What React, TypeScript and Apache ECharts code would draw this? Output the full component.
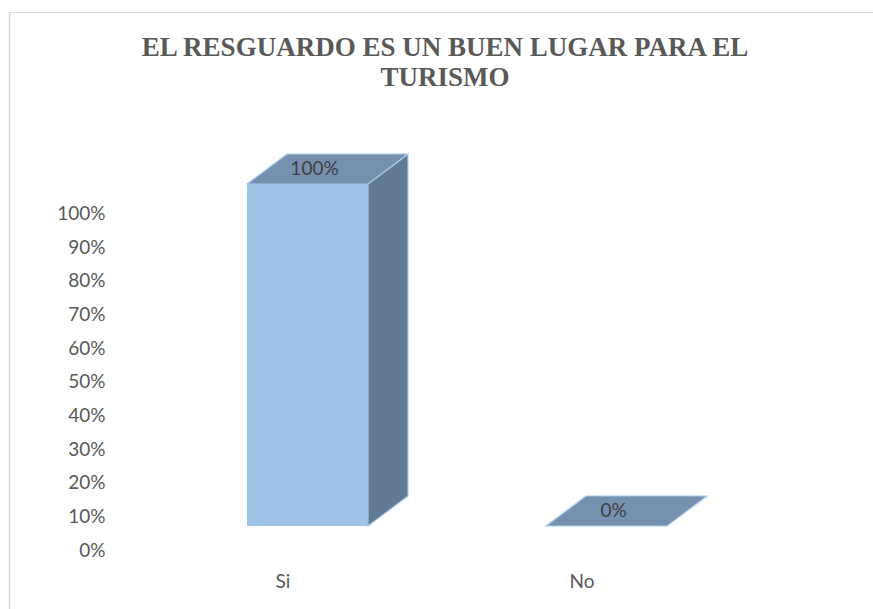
import React, { useEffect, useRef } from "react";
import * as echarts from "echarts";

const titleLines = ["EL RESGUARDO ES UN BUEN LUGAR PARA EL", "TURISMO"];
const categories = ["Si", "No"];
const values = [1, 0];
const yTickLabels = ["0%", "10%", "20%", "30%", "40%", "50%", "60%", "70%", "80%", "90%", "100%"];

const W = 873;
const H = 609;
const BAR_W = 121;
const DX = 40;
const DY = -30;
const FRONT = "#9DC3E6";
const TOP = "#7591AF";
const SIDE = "#627A94";
const EDGE = "#A9CCEB";
const TEXT = "#595959";
const LABEL_FONT = "Lato";
const TITLE_FONT = "Liberation Serif";

export default function App() {
  const ref = useRef<HTMLDivElement>(null);

  useEffect(() => {
    if (!ref.current) return;
    const chart = echarts.init(ref.current, undefined, { renderer: "svg" });

    const pct = (v: number) => Math.round(v * 100) + "%";

    const option: any = {
      animation: false,
      backgroundColor: "#ffffff",
      graphic: [
        {
          type: "line",
          shape: { x1: 9.5, y1: 12.5, x2: W + 5, y2: 12.5 },
          style: { stroke: "#D9D9D9", lineWidth: 1 },
          silent: true,
        },
        {
          type: "line",
          shape: { x1: 9.5, y1: 12.5, x2: 9.5, y2: H + 5 },
          style: { stroke: "#D9D9D9", lineWidth: 1.5 },
          silent: true,
        },
        ...titleLines.map((t, i) => ({
          type: "text",
          x: 445,
          y: 33 + i * 30,
          silent: true,
          style: {
            text: t,
            fontFamily: TITLE_FONT,
            fontWeight: "bold",
            fontSize: 27,
            fill: TEXT,
            align: "center",
            verticalAlign: "top",
          },
        })),
      ],
      grid: [
        { left: 133.5, right: W - 731.5, top: 212.7, bottom: H - 549, containLabel: false },
        { left: 158, right: W - 756, top: 184, bottom: H - 526, containLabel: false },
      ],
      xAxis: [
        {
          type: "category",
          gridIndex: 0,
          data: categories,
          axisLine: { show: false },
          axisTick: { show: false },
          axisLabel: { margin: 22, fontFamily: LABEL_FONT, fontSize: 19, color: TEXT },
        },
        { type: "category", gridIndex: 1, data: categories, show: false },
      ],
      yAxis: [
        {
          type: "value",
          gridIndex: 0,
          min: 0,
          max: 1,
          interval: 0.1,
          axisLine: { show: false },
          axisTick: { show: false },
          splitLine: { show: false },
          axisLabel: {
            margin: 28,
            fontFamily: LABEL_FONT,
            fontSize: 19,
            color: TEXT,
            formatter: (v: number) => yTickLabels[Math.round(v * 10)],
          },
        },
        { type: "value", gridIndex: 1, min: 0, max: 1, show: false },
      ],
      series: [
        {
          type: "custom",
          xAxisIndex: 1,
          yAxisIndex: 1,
          data: values.map((v, i) => [i, v]),
          renderItem: (params: any, api: any) => {
            const xi = api.value(0);
            const v = api.value(1);
            const base = api.coord([xi, 0]);
            const top = api.coord([xi, v]);
            const xl = base[0] - BAR_W / 2;
            const xr = base[0] + BAR_W / 2;
            const yb = base[1];
            const yt = top[1];
            const h = yb - yt;
            const children: any[] = [];
            if (h > 0.5) {
              children.push({
                type: "polygon",
                shape: { points: [[xr, yt], [xr + DX, yt + DY], [xr + DX, yb + DY], [xr, yb]] },
                style: { fill: SIDE, stroke: EDGE, lineWidth: 1.2 },
              });
              children.push({
                type: "rect",
                shape: { x: xl, y: yt, width: BAR_W, height: h },
                style: { fill: FRONT },
              });
            }
            children.push({
              type: "polygon",
              shape: { points: [[xl, yt], [xr, yt], [xr + DX, yt + DY], [xl + DX, yt + DY]] },
              style: { fill: TOP, stroke: EDGE, lineWidth: 1.2 },
            });
            children.push({
              type: "text",
              x: base[0] + DX / 2 - 13,
              y: yt + DY / 2 - 2,
              style: {
                text: pct(v),
                fontFamily: LABEL_FONT,
                fontSize: 19,
                fill: "#404040",
                align: "center",
                verticalAlign: "middle",
              },
            });
            return { type: "group", children };
          },
        },
      ],
    };

    chart.setOption(option);
    return () => chart.dispose();
  }, []);

  return (
    <div
      ref={ref}
      style={{ position: "fixed", left: 0, top: 0, width: W, height: H, background: "#fff" }}
    />
  );
}
